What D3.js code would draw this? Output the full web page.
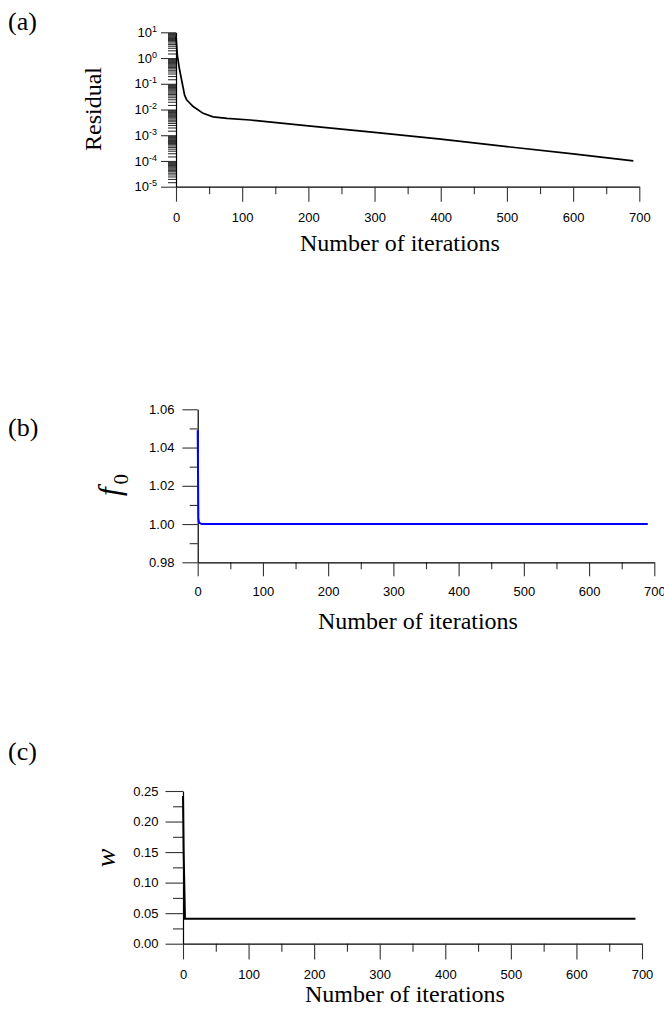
<!DOCTYPE html>
<html>
<head>
<meta charset="utf-8">
<title>Convergence history</title>
<style>
  body { margin: 0; background: #fff; }
  svg { display: block; }
  .tk text { font-family: "Liberation Sans", Arial, sans-serif; font-size: 13px; fill: #000; }
  .tk .domain { stroke: #000; stroke-width: 1.2; }
  .tk line { stroke: #333; stroke-width: 1.1; }
  .ttl { font-family: "Liberation Serif", "Times New Roman", serif; font-size: 24px; fill: #000; }
</style>
</head>
<body>
<script src="https://d3js.org/d3.v7.min.js"></script>
<script>
// (a) residual vs iterations
var iterA = [0, 2, 5, 9, 13, 16, 26, 41, 56, 77, 112, 200, 300, 400, 500, 600, 691];
var residual = [7, 1.3, 0.4, 0.12, 0.036, 0.024, 0.013, 0.0071, 0.0052, 0.0045, 0.0039, 0.0023, 0.0013, 0.0007, 0.00036, 0.00019, 0.0001];
// (b) f0 vs iterations
var iterB = [0, 1, 2, 6, 690];
var f0 = [1.049, 1.003, 1.0008, 1.0, 1.0];
// (c) w vs iterations
var iterC = [0, 1, 3, 690];
var wVals = [0.242, 0.15, 0.041, 0.041];

// tick labels
var xTicks = [0, 100, 200, 300, 400, 500, 600, 700];
var xMinor = [50, 150, 250, 350, 450, 550, 650];
var decades = [1e-5, 1e-4, 1e-3, 1e-2, 1e-1, 1e0, 1e1];
var expLabels = ["-5", "-4", "-3", "-2", "-1", "0", "1"];
var f0Ticks = [0.98, 1.00, 1.02, 1.04, 1.06];
var f0Minor = [0.99, 1.01, 1.03, 1.05];
var wTicks = [0, 0.05, 0.10, 0.15, 0.20, 0.25];
var wMinor = [0.025, 0.075, 0.125, 0.175, 0.225];

var svg = d3.select("body").append("svg")
    .attr("width", 664).attr("height", 1012);

function addX(x, y0, major, pad, minor) {
    var g = svg.append("g").attr("class", "tk").attr("transform", "translate(0," + y0 + ")");
    g.call(d3.axisBottom(x).tickValues(xMinor).tickSize(minor).tickSizeOuter(0).tickFormat(""));
    g.select(".domain").remove();
    var g2 = svg.append("g").attr("class", "tk").attr("transform", "translate(0," + y0 + ")");
    g2.call(d3.axisBottom(x).tickValues(xTicks).tickSize(major).tickSizeOuter(0).tickPadding(pad));
}

function addY(y, x0, ticks, minorTicks, major, minor, pad, fmt) {
    var g = svg.append("g").attr("class", "tk").attr("transform", "translate(" + x0 + ",0)");
    g.call(d3.axisLeft(y).tickValues(minorTicks).tickSize(minor).tickSizeOuter(0).tickFormat(""));
    g.select(".domain").remove();
    var g2 = svg.append("g").attr("class", "tk").attr("transform", "translate(" + x0 + ",0)");
    g2.call(d3.axisLeft(y).tickValues(ticks).tickSize(major).tickSizeOuter(0).tickPadding(pad).tickFormat(fmt));
    return g2;
}

function panelLabel(txt, y) {
    svg.append("text").attr("class", "ttl").attr("x", 8).attr("y", y)
       .style("font-size", "26px").text(txt);
}

function xTitle(cx, y) {
    svg.append("text").attr("class", "ttl").attr("x", cx).attr("y", y)
       .attr("text-anchor", "middle").text("Number of iterations");
}

// ---------- panel (a) ----------
var xa = d3.scaleLinear().domain([0, 700]).range([176, 639.3]);
var ya = d3.scaleLog().domain([1e-5, 10]).range([186.7, 32.3]);
var logMinor = [];
for (var n = -5; n < 1; n++) {
    for (var k = 1.5; k < 10; k += 0.5) {
        logMinor.push(k * Math.pow(10, n));
    }
}
addX(xa, 186.7, 15, 11.5, 7.5);
var gya = addY(ya, 176, decades, logMinor, 15, 8, 4, function(){ return ""; });
gya.selectAll(".tick text").each(function(d, i) {
    var t = d3.select(this);
    t.append("tspan").text("10");
    t.append("tspan").attr("dy", "-0.55em").style("font-size", "9px").text(expLabels[i]);
});
svg.append("path")
    .datum(iterA)
    .attr("fill", "none").attr("stroke", "#000").attr("stroke-width", 1.7)
    .attr("d", d3.line().x(function(d){ return xa(d); }).y(function(d, i){ return ya(residual[i]); }));
panelLabel("(a)", 30);
xTitle(400, 251);
svg.append("text").attr("class", "ttl")
   .attr("transform", "translate(101,109) rotate(-90)")
   .attr("text-anchor", "middle").text("Residual");

// ---------- panel (b) ----------
var xb = d3.scaleLinear().domain([0, 700]).range([197.7, 654.3]);
var yb = d3.scaleLinear().domain([0.98, 1.06]).range([562.3, 409.3]);
addX(xb, 562.3, 14, 10.4, 7);
addY(yb, 197.7, f0Ticks, f0Minor, 15.3, 8, 8, d3.format(".2f"));
svg.append("path")
    .datum(iterB)
    .attr("fill", "none").attr("stroke", "#0000ff").attr("stroke-width", 2)
    .attr("d", d3.line().x(function(d){ return xb(d); }).y(function(d, i){ return yb(f0[i]); }));
panelLabel("(b)", 436);
xTitle(418, 629);
var fl = svg.append("text").attr("class", "ttl")
   .attr("transform", "translate(120,485) rotate(-90)")
   .attr("text-anchor", "middle");
fl.append("tspan").style("font-style", "italic").style("font-size", "31px").text("f");
fl.append("tspan").attr("dx", "3").attr("dy", "8").style("font-size", "21px").text("0");

// ---------- panel (c) ----------
var xc = d3.scaleLinear().domain([0, 700]).range([183, 642]);
var yc = d3.scaleLinear().domain([0, 0.25]).range([943.7, 791]);
addX(xc, 943.7, 15.7, 10, 8);
addY(yc, 183, wTicks, wMinor, 17.5, 10, 7, d3.format(".2f"));
svg.append("path")
    .datum(iterC)
    .attr("fill", "none").attr("stroke", "#000").attr("stroke-width", 2)
    .attr("d", d3.line().x(function(d){ return xc(d); }).y(function(d, i){ return yc(wVals[i]); }));
panelLabel("(c)", 760);
xTitle(405, 1002);
svg.append("text").attr("class", "ttl")
   .attr("transform", "translate(115,858) rotate(-90)")
   .attr("text-anchor", "middle")
   .style("font-style", "italic").style("font-size", "28px").text("w");
</script>
</body>
</html>
